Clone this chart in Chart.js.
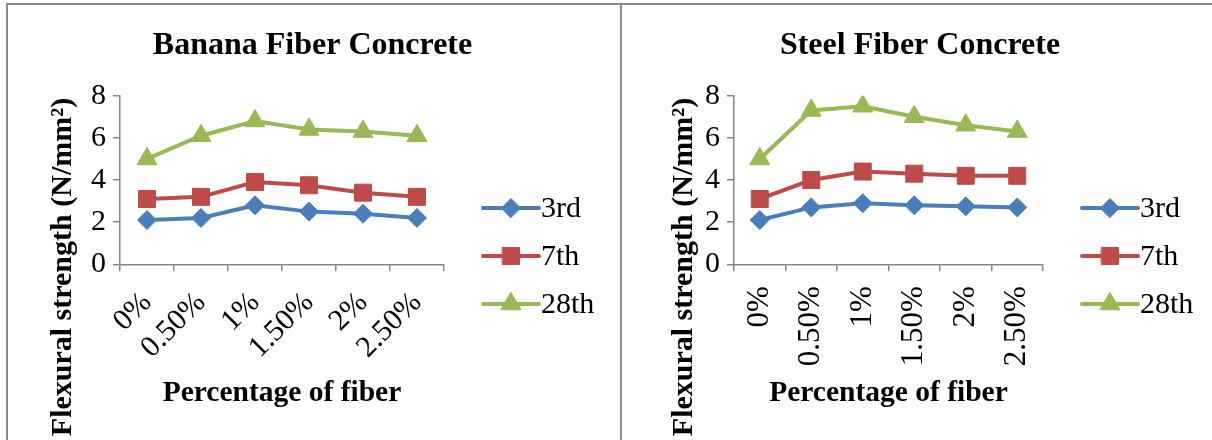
<!DOCTYPE html>
<html>
<head>
<meta charset="utf-8">
<script src="https://cdn.jsdelivr.net/npm/chart.js@4/dist/chart.umd.min.js"></script>
<style>
    body { margin: 0; background: #fff; }
    .frame { position: absolute; left: 6px; top: 3px; width: 1300px; height: 500px; border-top: 2px solid #8a8a8a; border-left: 2px solid #8a8a8a; }
    .divisor { position: absolute; left: 620px; top: 3px; width: 2px; height: 440px; background: #8a8a8a; }
    canvas { position: absolute; top: 5px; }
    #graficoBanana { left: 8px; }
    #graficoAco { left: 622px; }
</style>
</head>
<body>
<div class="frame"></div>
<div class="divisor"></div>
<canvas id="graficoBanana" width="612" height="435"></canvas>
<canvas id="graficoAco" width="590" height="435"></canvas>
<script>
var categorias = ['0%', '0.50%', '1%', '1.50%', '2%', '2.50%'];
var series = ['3rd', '7th', '28th'];
var ticksY = [0, 2, 4, 6, 8];

var banana3 = [2.1, 2.2, 2.8, 2.5, 2.4, 2.2];
var banana7 = [3.1, 3.2, 3.9, 3.75, 3.4, 3.2];
var banana28 = [5.0, 6.1, 6.8, 6.4, 6.3, 6.1];

var aco3 = [2.1, 2.7, 2.9, 2.8, 2.75, 2.7];
var aco7 = [3.1, 4.0, 4.4, 4.3, 4.2, 4.2];
var aco28 = [5.0, 7.3, 7.5, 7.0, 6.6, 6.3];

var FONTE = '"Liberation Serif", "Times New Roman", serif';
var estilos = [
    { linha: '#4a7ebb', ponto: '#4a7ebb', forma: 'rectRot', raio: 9.5 },
    { linha: '#be4b48', ponto: '#be4b48', forma: 'rect', raio: 12 },
    { linha: '#98b954', ponto: '#98b954', forma: 'triangle', raio: 11.5 }
];

Chart.defaults.font.family = FONTE;
Chart.defaults.color = '#000';

// titulo, eixo Y e legenda desenhados a mao
var textoPainel = {
    id: 'textoPainel',
    afterDraw: function (chart, args, opts) {
        var ctx = chart.ctx;
        var area = chart.chartArea;

        ctx.save();
        ctx.fillStyle = '#000';
        ctx.textAlign = 'center';
        ctx.textBaseline = 'middle';
        ctx.font = 'bold 32px ' + FONTE;
        ctx.fillText(opts.titulo, opts.tituloX, 41);

        ctx.translate(area.left - opts.recuoY, 262);
        ctx.rotate(-Math.PI / 2);
        ctx.font = 'bold 30px ' + FONTE;
        ctx.fillText('Flexural strength (N/mm\u00b2)', 0, 0);
        ctx.restore();

        chart.data.datasets.forEach(function (ds, i) {
            var y = 203 + i * 48;
            var x0 = area.right + 39;
            var x1 = x0 + 56;
            ctx.save();
            ctx.strokeStyle = ds.borderColor;
            ctx.lineWidth = 4;
            ctx.lineCap = 'round';
            ctx.beginPath();
            ctx.moveTo(x0, y);
            ctx.lineTo(x1, y);
            ctx.stroke();
            ctx.fillStyle = ds.pointBackgroundColor;
            ctx.strokeStyle = ds.pointBorderColor;
            ctx.lineWidth = 1;
            Chart.helpers.drawPoint(ctx, { pointStyle: ds.pointStyle, radius: ds.pointRadius, borderWidth: 1, rotation: 0 }, (x0 + x1) / 2, y);
            ctx.fillStyle = '#000';
            ctx.textAlign = 'left';
            ctx.textBaseline = 'middle';
            ctx.font = '30px ' + FONTE;
            ctx.fillText(ds.label, x1 + 2, y + 1);
            ctx.restore();
        });
    }
};

function MontarGrafico(id, valores, cfg) {
    var ctx = document.getElementById(id).getContext('2d');

    return new Chart(ctx, {
        type: 'line',
        data: {
            labels: categorias,
            datasets: valores.map(function (dados, i) {
                return {
                    label: series[i],
                    data: dados,
                    borderColor: estilos[i].linha,
                    borderWidth: 4,
                    pointStyle: estilos[i].forma,
                    pointRadius: estilos[i].raio,
                    pointBackgroundColor: estilos[i].ponto,
                    pointBorderColor: estilos[i].ponto,
                    pointBorderWidth: 1,
                    tension: 0
                };
            })
        },
        plugins: [textoPainel],
        options: {
            responsive: false,
            animation: false,
            layout: { padding: { left: 20, top: 90.7, right: cfg.direita, bottom: 0 } },
            plugins: {
                legend: { display: false },
                tooltip: { enabled: false },
                textoPainel: { titulo: cfg.titulo, tituloX: cfg.tituloX, recuoY: cfg.recuoY }
            },
            scales: {
                x: {
                    offset: true,
                    grid: { offset: true, drawOnChartArea: false, color: '#868686', tickLength: 7, lineWidth: 1.5 },
                    border: { color: '#868686', width: 1.5 },
                    ticks: { font: { size: cfg.fonteX }, minRotation: cfg.rotacao, maxRotation: cfg.rotacao, autoSkip: false, padding: cfg.recuoX },
                    title: { display: true, text: 'Percentage of fiber', font: { size: 29.5, weight: 'bold' }, padding: { top: 0, bottom: 29 } },
                    afterFit: function (scale) { scale.height = 175.7; }
                },
                y: {
                    min: 0,
                    max: 8,
                    afterBuildTicks: function (scale) {
                        scale.ticks = ticksY.map(function (v) { return { value: v }; });
                    },
                    grid: { drawOnChartArea: false, color: '#868686', tickLength: 7, lineWidth: 1.5 },
                    border: { color: '#868686', width: 1.5 },
                    ticks: { font: { size: 30 }, padding: 7 },
                    afterFit: function (scale) { scale.width = 92; }
                }
            }
        }
    });
}

MontarGrafico('graficoBanana', [banana3, banana7, banana28], {
    titulo: 'Banana Fiber Concrete', tituloX: 304.5, recuoY: 56.5, direita: 176, rotacao: 45, recuoX: 14, fonteX: 30
});

MontarGrafico('graficoAco', [aco3, aco7, aco28], {
    titulo: 'Steel Fiber Concrete', tituloX: 298, recuoY: 50, direita: 169, rotacao: 90, recuoX: 15, fonteX: 31
});
</script>
</body>
</html>
